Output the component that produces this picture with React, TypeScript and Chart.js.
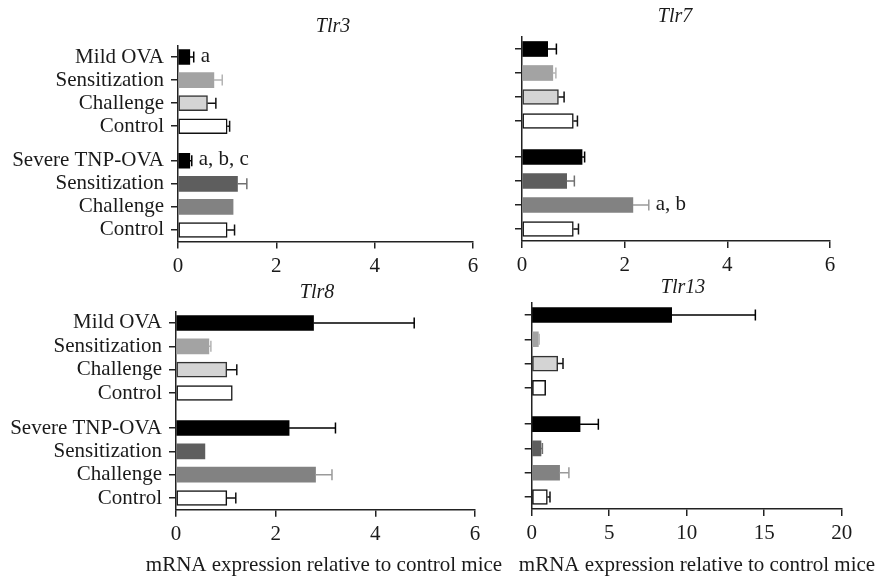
import React, { useEffect, useRef } from "react";
import { Chart, registerables } from "chart.js";

Chart.register(...registerables);

// ---------- data ----------
const GROUP_LABELS = [
  "Mild OVA",
  "Sensitization",
  "Challenge",
  "Control",
  "Severe TNP-OVA",
  "Sensitization",
  "Challenge",
  "Control",
];

const TLR3_MEAN = [0.24, 0.73, 0.6, 1.0, 0.24, 1.21, 1.12, 1.0];
const TLR3_ERR = [0.08, 0.17, 0.17, 0.05, 0.04, 0.19, 0.0, 0.15];
const TLR3_NOTES = ["a", "", "", "", "a, b, c", "", "", ""];

const TLR7_MEAN = [0.5, 0.6, 0.71, 1.0, 1.17, 0.87, 2.16, 1.0];
const TLR7_ERR = [0.17, 0.06, 0.11, 0.08, 0.05, 0.15, 0.31, 0.1];
const TLR7_NOTES = ["", "", "", "", "", "", "a, b", ""];

const TLR8_MEAN = [2.76, 0.66, 1.02, 1.13, 2.27, 0.58, 2.8, 1.02];
const TLR8_ERR = [2.02, 0.04, 0.2, 0.0, 0.93, 0.0, 0.33, 0.18];
const TLR8_NOTES = ["", "", "", "", "", "", "", ""];

const TLR13_MEAN = [9.03, 0.43, 1.68, 0.9, 3.12, 0.6, 1.8, 1.01];
const TLR13_ERR = [5.4, 0.05, 0.34, 0.0, 1.18, 0.09, 0.6, 0.17];
const TLR13_NOTES = ["", "", "", "", "", "", "", ""];

const X_TICKS_SMALL = [0, 2, 4, 6];
const X_TICKS_LARGE = [0, 5, 10, 15, 20];

const X_TITLE = "mRNA expression relative to control mice";

// ---------- layout / style ----------
const ROW_SLOTS = [0, 1, 2, 3, 4.5, 5.5, 6.5, 7.5];

const FILL = ["#000000", "#a3a3a3", "#d4d4d4", "#ffffff", "#000000", "#5e5e5e", "#828282", "#ffffff"];
const BORDER = ["#000000", "#a3a3a3", "#333333", "#111111", "#000000", "#5e5e5e", "#828282", "#111111"];
const BORDER_W = [0, 0, 1.5, 1.5, 0, 0, 0, 1.5];
const ERR_COLOR = ["#000000", "#b4b4b4", "#111111", "#111111", "#000000", "#707070", "#9a9a9a", "#111111"];

const FONT_FAMILY = "'Liberation Serif', 'Times New Roman', serif";
const INK = "#1a1a1a";

type PanelProps = {
  left: number;
  top: number;
  width: number;
  height: number;
  padTop: number;
  padRight: number;
  yWidth: number;
  xHeight: number;
  xMax: number;
  xTicks: number[];
  means: number[];
  errs: number[];
  notes: string[];
  showLabels: boolean;
  title: string;
  titleX: number;
  titleY: number;
  xTitle?: { x: number; y: number };
};

function Panel(p: PanelProps) {
  const ref = useRef<HTMLCanvasElement | null>(null);

  useEffect(() => {
    const canvas = ref.current;
    if (!canvas) return;

    const decor = {
      id: "decor",
      afterDatasetsDraw(chart: any) {
        const ctx = chart.ctx as CanvasRenderingContext2D;
        const xs = chart.scales.x;
        const meta = chart.getDatasetMeta(0);
        ctx.save();
        meta.data.forEach((bar: any, i: number) => {
          const v = p.means[i];
          const e = p.errs[i] || 0;
          const y = bar.y;
          const x0 = xs.getPixelForValue(v);
          const x1 = xs.getPixelForValue(v + e);
          if (e > 0) {
            ctx.strokeStyle = ERR_COLOR[i];
            ctx.lineWidth = 1.5;
            ctx.beginPath();
            ctx.moveTo(x0, y);
            ctx.lineTo(x1, y);
            ctx.moveTo(x1, y - 5.5);
            ctx.lineTo(x1, y + 5.5);
            ctx.stroke();
          }
          if (p.notes[i]) {
            ctx.fillStyle = INK;
            ctx.font = `21px ${FONT_FAMILY}`;
            ctx.textAlign = "left";
            ctx.textBaseline = "middle";
            ctx.fillText(p.notes[i], x1 + 7, y - 1);
          }
        });
        // panel title
        ctx.fillStyle = INK;
        ctx.font = `italic 20px ${FONT_FAMILY}`;
        ctx.textAlign = "center";
        ctx.textBaseline = "alphabetic";
        ctx.fillText(p.title, p.titleX, p.titleY);
        // axis title
        if (p.xTitle) {
          ctx.font = `21px ${FONT_FAMILY}`;
          ctx.textBaseline = "middle";
          ctx.fillText(X_TITLE, p.xTitle.x, p.xTitle.y);
        }
        ctx.restore();
      },
    };

    const gridOpts = {
      display: true,
      drawOnChartArea: false,
      drawTicks: true,
      tickLength: 7,
      offset: false,
      color: "#222222",
      lineWidth: 1.5,
    };
    const borderOpts = { display: true, color: "#222222", width: 1.5 };

    const chart = new Chart(canvas, {
      type: "bar",
      data: {
        datasets: [
          {
            data: p.means.map((v, i) => ({ x: v, y: ROW_SLOTS[i] })),
            backgroundColor: FILL,
            borderColor: BORDER,
            borderWidth: BORDER_W,
            borderSkipped: false,
            barThickness: 15,
          } as any,
        ],
      },
      options: {
        indexAxis: "y",
        animation: false,
        responsive: false,
        maintainAspectRatio: false,
        events: [],
        layout: { padding: { top: p.padTop, right: p.padRight, left: 0, bottom: 0 } },
        plugins: {
          legend: { display: false },
          tooltip: { enabled: false },
          title: { display: false },
        },
        scales: {
          x: {
            type: "linear",
            min: 0,
            max: p.xMax,
            offset: false,
            afterBuildTicks: (s: any) => {
              s.ticks = p.xTicks.map((v) => ({ value: v }));
            },
            ticks: {
              color: INK,
              padding: 5,
              font: { family: FONT_FAMILY, size: 21 },
              maxRotation: 0,
              autoSkip: false,
            },
            grid: gridOpts,
            border: borderOpts,
            afterFit: (s: any) => {
              s.height = p.xHeight;
            },
          },
          y: {
            type: "linear",
            reverse: true,
            min: -0.5,
            max: 8,
            offset: false,
            afterBuildTicks: (s: any) => {
              s.ticks = ROW_SLOTS.map((v) => ({ value: v }));
            },
            ticks: {
              color: INK,
              padding: 7,
              autoSkip: false,
              font: { family: FONT_FAMILY, size: 21 },
              callback: (_v: any, i: number) => (p.showLabels ? GROUP_LABELS[i] : ""),
            },
            grid: gridOpts,
            border: borderOpts,
            afterFit: (s: any) => {
              s.width = p.yWidth;
            },
          },
        },
      } as any,
      plugins: [decor],
    });

    return () => chart.destroy();
  }, []);

  return (
    <canvas
      ref={ref}
      width={p.width}
      height={p.height}
      style={{ position: "absolute", left: p.left, top: p.top, width: p.width, height: p.height }}
    />
  );
}

export default function App() {
  return (
    <div
      style={{
        position: "absolute",
        left: 0,
        top: 0,
        width: 876,
        height: 580,
        background: "#ffffff",
        overflow: "hidden",
      }}
    >
      <Panel
        left={0}
        top={0}
        width={490}
        height={275}
        padTop={45.5}
        padRight={17}
        yWidth={178}
        xHeight={33.5}
        xMax={6}
        xTicks={X_TICKS_SMALL}
        means={TLR3_MEAN}
        errs={TLR3_ERR}
        notes={TLR3_NOTES}
        showLabels={true}
        title="Tlr3"
        titleX={333}
        titleY={31.5}
      />
      <Panel
        left={490}
        top={0}
        width={386}
        height={275}
        padTop={37}
        padRight={46}
        yWidth={32}
        xHeight={34}
        xMax={6}
        xTicks={X_TICKS_SMALL}
        means={TLR7_MEAN}
        errs={TLR7_ERR}
        notes={TLR7_NOTES}
        showLabels={false}
        title="Tlr7"
        titleX={185}
        titleY={21.5}
      />
      <Panel
        left={0}
        top={275}
        width={508}
        height={305}
        padTop={36.3}
        padRight={33}
        yWidth={176}
        xHeight={70.3}
        xMax={6}
        xTicks={X_TICKS_SMALL}
        means={TLR8_MEAN}
        errs={TLR8_ERR}
        notes={TLR8_NOTES}
        showLabels={true}
        title="Tlr8"
        titleX={317}
        titleY={23.3}
        xTitle={{ x: 324, y: 290 }}
      />
      <Panel
        left={490}
        top={275}
        width={386}
        height={305}
        padTop={27.9}
        padRight={34.3}
        yWidth={41.7}
        xHeight={70.9}
        xMax={20}
        xTicks={X_TICKS_LARGE}
        means={TLR13_MEAN}
        errs={TLR13_ERR}
        notes={TLR13_NOTES}
        showLabels={false}
        title="Tlr13"
        titleX={193}
        titleY={18.3}
        xTitle={{ x: 207, y: 290 }}
      />
    </div>
  );
}
